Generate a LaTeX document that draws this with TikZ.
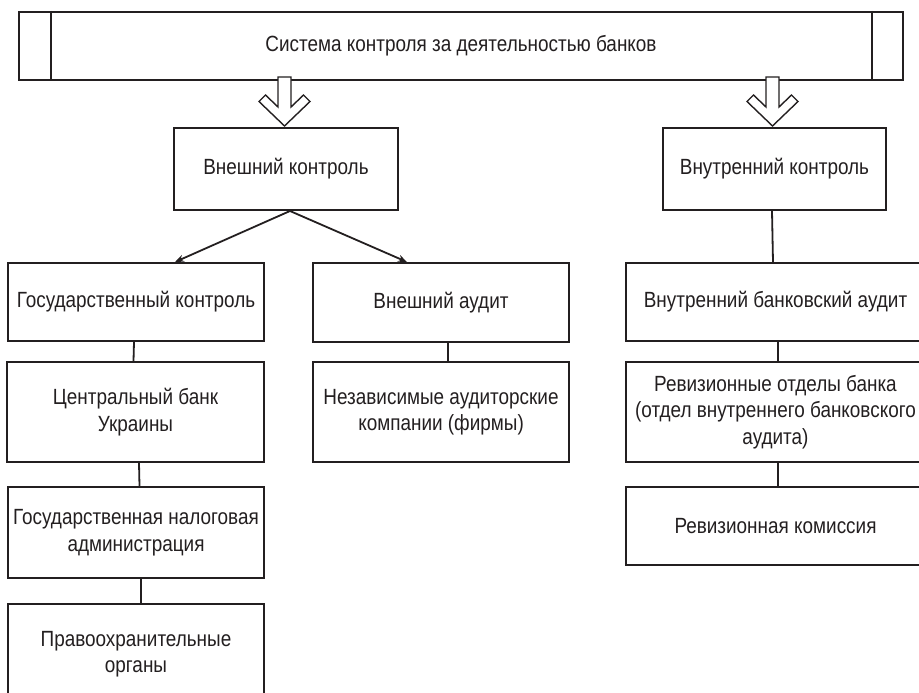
\documentclass[tikz,border=0pt]{standalone}
\usepackage{fontspec}
\setmainfont{Liberation Sans}[FakeStretch=0.86]
\usetikzlibrary{arrows.meta}
\definecolor{ink}{RGB}{35,31,32}
\begin{document}
\begin{tikzpicture}[x=1pt,y=-1pt,
  every node/.style={font=\fontsize{22pt}{26.5pt}\selectfont, text=ink},
  box/.style={draw=ink, line width=2pt, fill=white, rectangle, align=center, inner sep=0pt},
  conn/.style={draw=ink, line width=1.8pt},
  arr/.style={conn, -{Stealth[length=9pt,width=7pt]}},
  blockarrow/.style={draw=ink, line width=1.4pt, fill=white, line join=miter}
]
\useasboundingbox (0,0) rectangle (919,693);
% top system box
\node[box, minimum width=884pt, minimum height=68pt] (top) at (461,46) {Система контроля за деятельностью банков};
\draw[conn, line width=2pt] ([xshift=33pt]top.north west) -- ([xshift=33pt]top.south west);
\draw[conn, line width=2pt] ([xshift=-32pt]top.north east) -- ([xshift=-32pt]top.south east);
% second level
\node[box, minimum width=224pt, minimum height=82pt] (vk) at (286,169) {Внешний контроль};
\node[box, minimum width=223pt, minimum height=82pt] (ik) at (774.5,169) {Внутренний контроль};
% block arrows
\draw[blockarrow] (278,77) -- (278,107) -- (265.5,95) -- (259,101.5) -- (284.5,126) -- (310,101.5) -- (303.5,95) -- (291,107) -- (291,77) -- cycle;
\draw[blockarrow] (766,77) -- (766,107) -- (753.5,95) -- (747,101.5) -- (772.5,126) -- (798,101.5) -- (791.5,95) -- (779,107) -- (779,77) -- cycle;
% left column
\node[box, minimum width=256pt, minimum height=78pt] (gk) at (136,302) {Государственный контроль};
\node[box, minimum width=257pt, minimum height=100pt] (cb) at (135.5,412) {Центральный банк\\Украины};
\node[box, minimum width=256pt, minimum height=91pt] (gn) at (136,532.5) {Государственная налоговая\\администрация};
\node[box, minimum width=256pt, minimum height=100pt] (po) at (136,654) {Правоохранительные\\органы};
% middle column
\node[box, minimum width=256pt, minimum height=79pt] (va) at (441,302.5) {Внешний аудит};
\node[box, minimum width=256pt, minimum height=100pt] (nz) at (441,412) {Независимые аудиторские\\компании (фирмы)};
% right column
\node[box, minimum width=299pt, minimum height=78pt] (iba) at (775.5,302) {Внутренний банковский аудит};
\node[box, minimum width=299pt, minimum height=100pt] (ro) at (775.5,412) {Ревизионные отделы банка\\(отдел внутреннего банковского\\аудита)};
\node[box, minimum width=299pt, minimum height=78pt] (rk) at (775.5,526) {Ревизионная комиссия};
% connectors
\draw[arr] ([xshift=4pt]vk.south) -- ([xshift=39pt]gk.north);
\draw[arr] ([xshift=4pt]vk.south) -- ([xshift=-34pt]va.north);
\draw[conn] ([xshift=-2pt]gk.south) -- ([xshift=-2pt]cb.north);
\draw[conn] ([xshift=3.5pt]cb.south) -- ([xshift=3.5pt]gn.north);
\draw[conn] ([xshift=5pt]gn.south) -- ([xshift=5pt]po.north);
\draw[conn] ([xshift=7pt]va.south) -- ([xshift=7pt]nz.north);
\draw[conn] ([xshift=-2.5pt]ik.south) -- ([xshift=-2.5pt]iba.north);
\draw[conn] ([xshift=2.5pt]iba.south) -- ([xshift=2.5pt]ro.north);
\draw[conn] ([xshift=2.5pt]ro.south) -- ([xshift=2.5pt]rk.north);
\end{tikzpicture}
\end{document}
